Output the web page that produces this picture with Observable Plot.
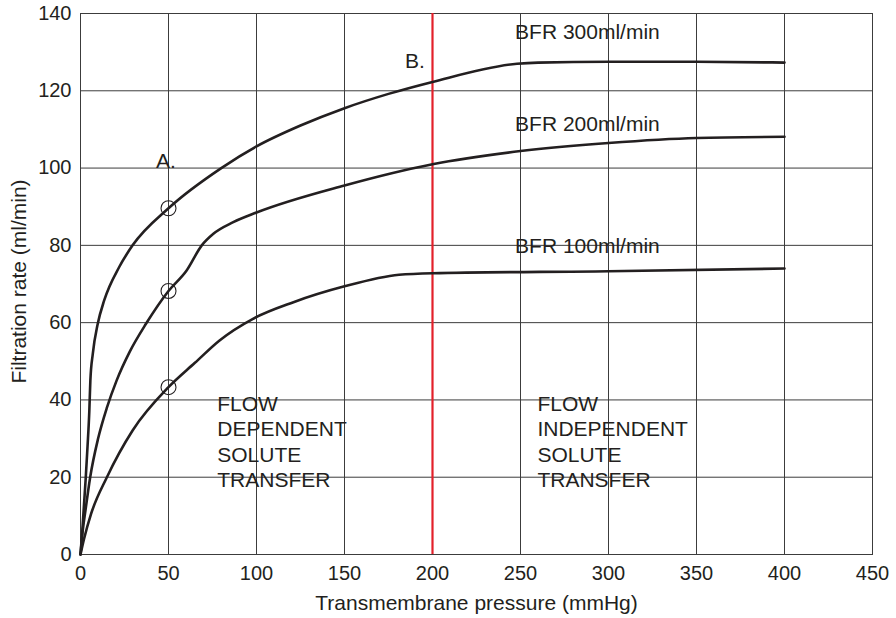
<!DOCTYPE html>
<html><head><meta charset="utf-8">
<script src="https://cdn.jsdelivr.net/npm/d3@7"></script>
<script src="https://cdn.jsdelivr.net/npm/@observablehq/plot@0.6"></script>
<style>html,body{margin:0;padding:0;background:#fff}svg{display:block}</style>
</head><body><div id="chart"></div>
<script>
// Axis ticks
const xTicks = [0, 50, 100, 150, 200, 250, 300, 350, 400, 450];
const yTicks = [0, 20, 40, 60, 80, 100, 120, 140];

// Curves: transmembrane pressure (mmHg) vs filtration rate (ml/min)
const bfr300X = [0, 1, 2, 3, 4, 5, 5.6, 7, 9.8, 13.5, 22, 29.6, 50, 80, 100, 125, 150, 175, 200, 248, 260, 300, 350, 400];
const bfr300Y = [0, 6, 13, 20, 28, 37, 45, 52, 59.7, 65.8, 74.4, 80, 89.6, 100, 105.6, 111, 115.5, 119.2, 122.3, 127, 127.3, 127.5, 127.5, 127.3];
const bfr200X = [0, 1, 3, 5.5, 10, 15, 20.5, 28, 37.2, 50, 60.3, 68.9, 75.5, 86.8, 100, 150, 200, 250, 300, 350, 400];
const bfr200Y = [0, 5, 12, 20, 30, 38, 45, 52.5, 59.7, 68.2, 73.5, 80, 83, 86, 88.5, 95.5, 101, 104.4, 106.5, 107.8, 108.1];
const bfr100X = [0, 2, 6, 15, 29.6, 50, 65, 79, 98, 121, 150, 181, 200, 300, 400];
const bfr100Y = [0, 4, 10.5, 20, 32.1, 43.3, 49.6, 55.4, 61, 65.3, 69.4, 72.4, 72.8, 73.3, 74];

// Marked points at 50 mmHg
const markX = [50, 50, 50];
const markY = [89.6, 68.2, 43.3];

// Divider
const dividerX = [200];

// Labels
const seriesLabels = ["BFR 300ml/min", "BFR 200ml/min", "BFR 100ml/min"];
const seriesLabelX = [246.9, 246.9, 246.9];
const seriesLabelY = [135.2, 111.4, 79.8];
const letterLabels = ["A.", "B."];
const letterX = [42.9, 184.4];
const letterY = [101.8, 127.7];
const regionLabels = ["FLOW\nDEPENDENT\nSOLUTE\nTRANSFER", "FLOW\nINDEPENDENT\nSOLUTE\nTRANSFER"];
const regionX = [77.7, 259.6];
const regionY = [29.4, 29.4];

const xTitle = "Transmembrane pressure (mmHg)";
const yTitle = "Filtration rate (ml/min)";

const toRows = (xs, ys, s) => xs.map((x, i) => ({x, y: ys[i], s}));
const curves = [
  ...toRows(bfr300X, bfr300Y, "300"),
  ...toRows(bfr200X, bfr200Y, "200"),
  ...toRows(bfr100X, bfr100Y, "100")
];
const marks = markX.map((x, i) => ({x, y: markY[i]}));
const sLab = seriesLabels.map((t, i) => ({t, x: seriesLabelX[i], y: seriesLabelY[i]}));
const lLab = letterLabels.map((t, i) => ({t, x: letterX[i], y: letterY[i]}));
const rLab = regionLabels.map((t, i) => ({t, x: regionX[i], y: regionY[i]}));

const font = "Liberation Sans, Arial, Helvetica, sans-serif";
const ink = "#231f20";
const gridInk = "#3c3c3c";

const chart = Plot.plot({
  width: 896,
  height: 618,
  marginLeft: 80,
  marginRight: 24,
  marginTop: 13,
  marginBottom: 64,
  style: {fontFamily: font, background: "#fff", color: ink},
  x: {domain: [0, 450]},
  y: {domain: [0, 140]},
  marks: [
    Plot.gridX(xTicks, {stroke: gridInk, strokeOpacity: 1, strokeWidth: 1}),
    Plot.gridY(yTicks, {stroke: gridInk, strokeOpacity: 1, strokeWidth: 1}),
    Plot.frame({stroke: gridInk, strokeWidth: 1}),
    Plot.axisX(xTicks, {tickSize: 0, tickPadding: 11, fontSize: 20, label: null, fill: ink}),
    Plot.axisY(yTicks, {tickSize: 0, tickPadding: 9, fontSize: 20, label: null, fill: ink}),
    Plot.ruleX(dividerX, {stroke: "#e3202a", strokeWidth: 2.2}),
    Plot.line(curves, {x: "x", y: "y", z: "s", stroke: ink, strokeWidth: 2.6, curve: "monotone-x"}),
    Plot.dot(marks, {x: "x", y: "y", r: 7.5, stroke: ink, strokeWidth: 1.1, fill: "none"}),
    Plot.text(sLab, {x: "x", y: "y", text: "t", textAnchor: "start", fontSize: 21, fill: ink}),
    Plot.text(lLab, {x: "x", y: "y", text: "t", textAnchor: "start", fontSize: 21, fill: ink}),
    Plot.text(rLab, {x: "x", y: "y", text: "t", textAnchor: "start", fontSize: 21, lineHeight: 1.2, fill: ink}),
    Plot.text([xTitle], {text: d => d, frameAnchor: "bottom", textAnchor: "middle", lineAnchor: "middle", dy: 49, fontSize: 21, fill: ink}),
    Plot.text([yTitle], {text: d => d, frameAnchor: "left", textAnchor: "middle", lineAnchor: "middle", rotate: -90, dx: -61, dy: -2.5, fontSize: 21, fill: ink})
  ]
});
document.getElementById("chart").appendChild(chart);
</script>
</body></html>
